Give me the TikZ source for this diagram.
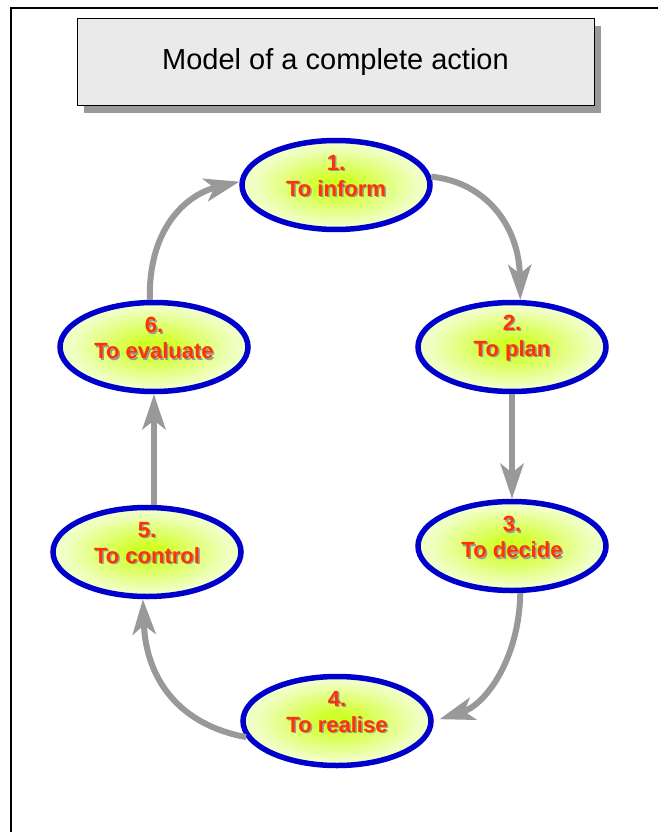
\documentclass[tikz,border=0pt]{standalone}
\usepackage{fontspec}
\setmainfont{Liberation Sans}
\usetikzlibrary{arrows.meta,shapes.geometric,shadows,calc}
\definecolor{ellblue}{RGB}{0,0,204}
\definecolor{arrgray}{RGB}{153,153,153}
\definecolor{txtred}{RGB}{255,51,0}
\definecolor{fillin}{RGB}{208,255,40}
\definecolor{fillout}{RGB}{240,255,196}
\definecolor{titlefill}{RGB}{234,234,234}
\definecolor{shadowgray}{RGB}{153,153,153}
\pgfdeclareradialshading{stepglow}{\pgfpoint{0bp}{0bp}}{color(0bp)=(fillin); color(4bp)=(fillin); color(22bp)=(fillout); color(50bp)=(fillout)}
\begin{document}
\begin{tikzpicture}[x=1pt,y=-1pt,
  stepell/.style={shape=ellipse, draw=ellblue, line width=5.5pt,
    minimum width=188pt, minimum height=89pt, inner sep=0pt,
    shading=stepglow},
  steptxt/.style={text=txtred, font=\fontsize{22}{26}\selectfont\bfseries,
    align=center, inner sep=0pt},
  stepshade/.style={steptxt, text=shadowgray},
  flow/.style={draw=arrgray, line width=6pt,
    -{Stealth[length=35pt,width=23pt,inset=9pt]}},
  titlebox/.style={draw=black, line width=1pt, fill=titlefill,
    minimum width=517pt, minimum height=87pt, inner sep=0pt,
    font=\fontsize{29}{34}\selectfont,
    drop shadow={shadow xshift=7pt, shadow yshift=-7pt, fill=shadowgray, opacity=1}},
  frame/.style={draw=black, line width=2pt}
]
\useasboundingbox (0,0) rectangle (658,832);
\fill[white] (0,0) rectangle (658,832);
\draw[frame] (11,832) -- (11,8) -- (658,8);

\node[titlebox] (title) at (335.5,62.5) {Model of a complete action};

\node[stepell] (e1) at (336,185) {};
\node[stepell] (e2) at (512,347) {};
\node[stepell] (e3) at (512,546) {};
\node[stepell] (e4) at (337,721) {};
\node[stepell] (e5) at (147,552) {};
\node[stepell] (e6) at (154,347) {};

\node[stepshade] (s1) at ($(e1)+(1.5,-7.5)$) {1.\\To inform};
\node[steptxt]   (t1) at ($(e1)+(0,-9)$) {1.\\To inform};
\node[stepshade] (s2) at ($(e2)+(1.5,-7.5)$) {2.\\To plan};
\node[steptxt]   (t2) at ($(e2)+(0,-9)$) {2.\\To plan};
\node[stepshade] (s3) at ($(e3)+(1.5,-7.5)$) {3.\\To decide};
\node[steptxt]   (t3) at ($(e3)+(0,-9)$) {3.\\To decide};
\node[stepshade] (s4) at ($(e4)+(1.5,-7.5)$) {4.\\To realise};
\node[steptxt]   (t4) at ($(e4)+(0,-9)$) {4.\\To realise};
\node[stepshade] (s5) at ($(e5)+(1.5,-7.5)$) {5.\\To control};
\node[steptxt]   (t5) at ($(e5)+(0,-9)$) {5.\\To control};
\node[stepshade] (s6) at ($(e6)+(1.5,-7.5)$) {6.\\To evaluate};
\node[steptxt]   (t6) at ($(e6)+(0,-9)$) {6.\\To evaluate};

\draw[flow] (e1.5) .. controls (485,182) and (519,225) .. (e2.80);
\draw[flow] (e2.south) -- (e3.north);
\draw[flow, shorten >=6pt] (e3.280) .. controls (519,660) and (485,705) .. (e4.east);
\draw[flow] (e4.190) .. controls (180,725) and (146,680) .. (e5.265);
\draw[flow] (e6.south |- e5.north) -- (e6.south);
\draw[flow] (e6.95) .. controls (148,230) and (185,195) .. (e1.178);
\end{tikzpicture}
\end{document}
